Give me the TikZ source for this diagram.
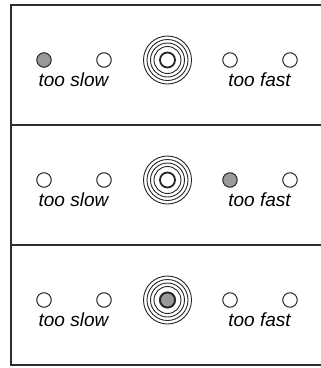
\documentclass[tikz,border=0pt]{standalone}
\usepackage{fontspec}
\setmainfont{Liberation Sans}
\begin{document}
\begin{tikzpicture}[x=1pt,y=-1pt,
  frame/.style={draw=black!82,line width=2.6pt},
  led/.style={circle,draw=black!85,line width=1pt,inner sep=0pt,minimum size=14.5pt},
  ledon/.style={led,fill=black!40},
  ring/.style={circle,draw=black!85,line width=0.9pt,inner sep=0pt},
  core/.style={circle,draw=black!85,line width=1.8pt,inner sep=0pt,minimum size=15pt},
  lbl/.style={font=\fontsize{19}{21}\selectfont\itshape,inner sep=0pt,anchor=base}]
\useasboundingbox (0,0) rectangle (321,368);
\begin{scope}
\clip (0,0) rectangle (321,368);
\draw[frame] (330,5) -- (11,5) -- (11,365) -- (330,365);
\draw[frame] (11,125) -- (330,125);
\draw[frame] (11,245) -- (330,245);
\end{scope}
\foreach \r/\a/\b/\c/\d/\t in {0/ledon/led/led/led/core, 1/led/led/ledon/led/core, 2/led/led/led/led/core}{
  \pgfmathsetmacro{\yy}{60+120*\r}
  \node[\a] (l1\r) at (44,\yy) {};
  \node[\b] (l2\r) at (104,\yy) {};
  \node[\c] (l3\r) at (230,\yy) {};
  \node[\d] (l4\r) at (290,\yy) {};
  \foreach \s in {48,41,34,27}{
    \node[ring,minimum size=\s pt] at (167.5,\yy) {};
  }
  \node[core] (c\r) at (167.5,\yy) {};
  \node[lbl] (s\r) at (73.5,\yy+26) {too slow};
  \node[lbl] (f\r) at (259.5,\yy+26) {too fast};
}
\node[core,fill=black!40] (cc) at (167.5,300) {};
\end{tikzpicture}
\end{document}
